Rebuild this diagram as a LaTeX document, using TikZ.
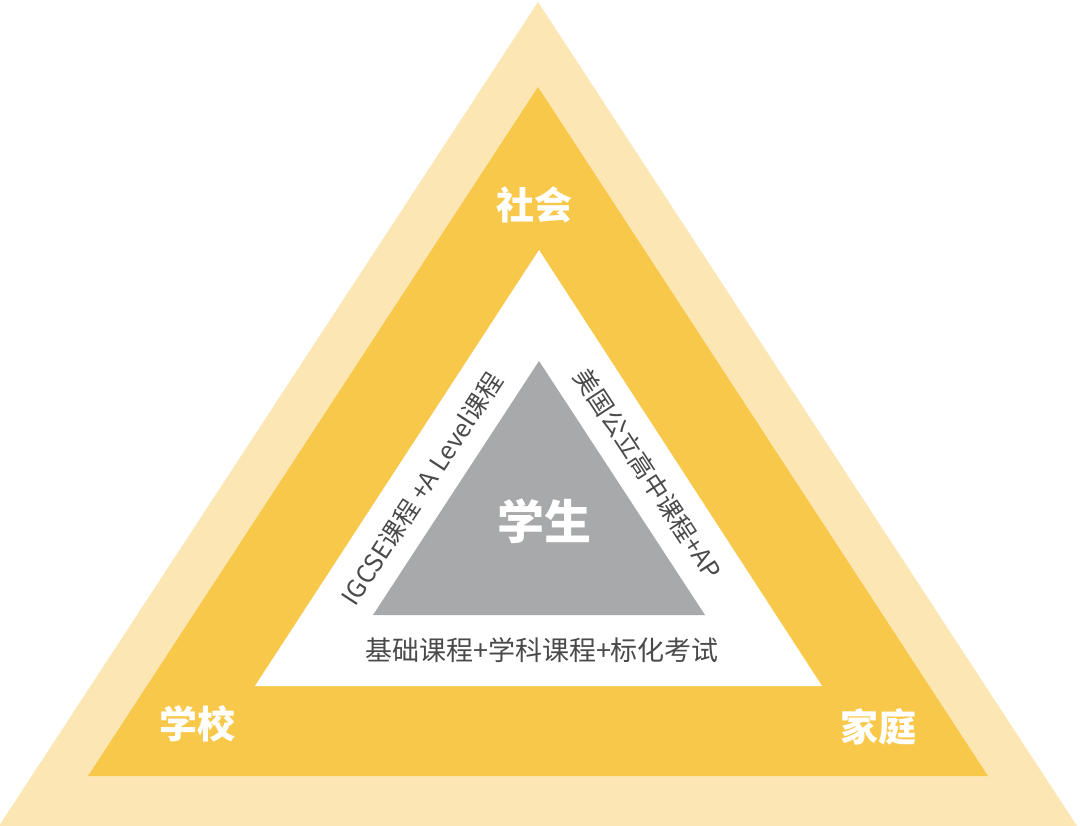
\documentclass[tikz,border=0pt]{standalone}
\usepackage{fontspec}
\newfontfamily\cjk{Noto Sans CJK SC}
\definecolor{lightyellow}{HTML}{FCE7B4}
\definecolor{midyellow}{HTML}{F8C84B}
\definecolor{studentgray}{HTML}{A8A9AB}
\definecolor{textgray}{HTML}{4A4A4A}
\tikzset{
  layer/.style={draw=none},
  ringlabel/.style={text=white,font=\cjk\bfseries\fontsize{38}{40}\selectfont,inner sep=0pt},
  sidelabel/.style={text=textgray,font=\cjk\fontsize{25}{27}\selectfont,inner sep=0pt},
}
\begin{document}
\begin{tikzpicture}[x=1pt,y=-1pt]
\useasboundingbox (0,0) rectangle (1080,826);
\fill[white] (0,0) rectangle (1080,826);
% triangles
\fill[lightyellow,layer] (538,2) -- (-1,826) -- (1077,826) -- cycle;
\fill[midyellow,layer] (538,87) -- (88,776) -- (988,776) -- cycle;
\fill[white,layer] (539,250) -- (255,686) -- (822,686) -- cycle;
\fill[studentgray,layer] (539,361) -- (373,615) -- (705,615) -- cycle;
% labels
\node[ringlabel] (society) at (534,205) {社会};
\node[ringlabel] (school) at (197,724) {学校};
\node[ringlabel] (family) at (878,727) {家庭};
\node[text=white,font=\cjk\bfseries\fontsize{47}{50}\selectfont,inner sep=0pt] (student) at (544,521) {学生};
\node[sidelabel,font=\cjk\fontsize{27}{29}\selectfont] (base) at (542,650) {基础课程+学科课程+标化考试};
\node[sidelabel,rotate=56.8] (left) at (422,489) {IGCSE课程 +A Level课程};
\node[sidelabel,rotate=-56.8] (right) at (648,474) {美国公立高中课程+AP};
\end{tikzpicture}
\end{document}
